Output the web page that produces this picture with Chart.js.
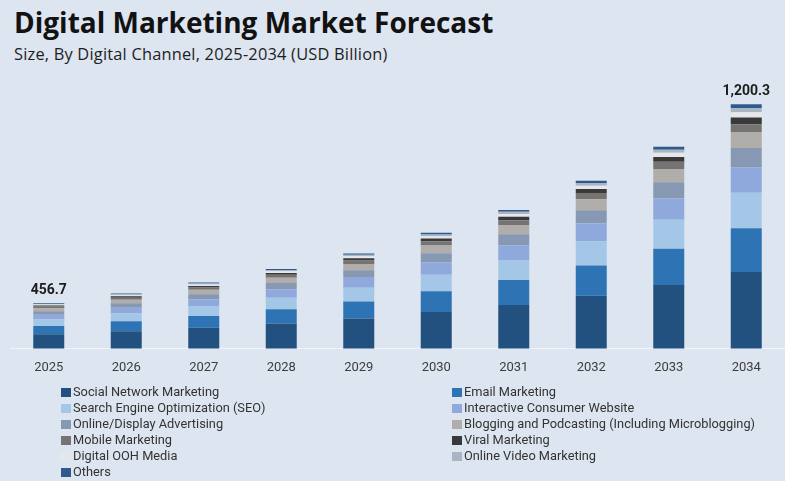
<!DOCTYPE html>
<html lang="en">
<head>
<meta charset="UTF-8">
<title>Digital Marketing Market Forecast</title>
<style>
  html, body { margin: 0; padding: 0; }
  body { width: 785px; height: 481px; background: #dde5f0; position: relative; overflow: hidden; font-family: Roboto, "Noto Sans", sans-serif; }
  #title { position: absolute; left: 14px; top: 8px; margin: 0; font-family: "Open Sans", sans-serif; font-size: 28px; line-height: 1; font-weight: 700; color: #121212; white-space: nowrap; }
  #subtitle { position: absolute; left: 14px; top: 46px; margin: 0; font-family: "Open Sans", sans-serif; font-size: 16.4px; letter-spacing: 0.2px; line-height: 1; color: #1e1e1e; white-space: nowrap; }
  #myChart { position: absolute; left: 0; top: 70px; }
  #legend { position: absolute; left: 61px; top: 384px; display: grid; grid-template-columns: 391px auto; font-size: 12.8px; color: #333; line-height: 16px; }
  #legend span.item { display: flex; align-items: center; white-space: nowrap; }
  #legend span.box { display: inline-block; width: 10px; height: 9px; margin-right: 2px; }
</style>
</head>
<body>
<h1 id="title">Digital Marketing Market Forecast</h1>
<p id="subtitle">Size, By Digital Channel, 2025-2034 (USD Billion)</p>
<canvas id="myChart" width="785" height="318"></canvas>
<div id="legend"></div>

<script src="https://cdn.jsdelivr.net/npm/chart.js"></script>
<script>
// years on the x axis
var years = ['2025', '2026', '2027', '2028', '2029', '2030', '2031', '2032', '2033', '2034'];

// USD billion per channel, bottom of the stack first
var socialNetwork = [340.9, 352.2, 365.3, 381.3, 399.4, 423.7, 450.5, 484.9, 524.5, 573.6];
var email         = [30.4, 36.9, 44.2, 53.4, 63.9, 77.7, 93.2, 112.8, 135.6, 163.8];
var seo           = [24.3, 29.5, 35.4, 42.7, 51.1, 62.2, 74.5, 90.2, 108.5, 132.6];
var interactive   = [17.9, 21.7, 26.1, 31.5, 37.6, 45.8, 54.9, 66.4, 79.8, 94.6];
var display       = [13.5, 16.4, 19.7, 23.7, 28.4, 34.6, 41.4, 50.1, 60.3, 71.9];
var blogging      = [11.1, 13.5, 16.2, 19.6, 23.4, 28.5, 34.2, 41.4, 49.7, 58.5];
var mobile        = [6.1, 7.4, 8.8, 10.7, 12.8, 15.5, 18.6, 22.6, 27.1, 30.9];
var viral         = [4.0, 4.9, 5.9, 7.1, 8.5, 10.4, 12.4, 15.0, 18.1, 24.9];
var digitalOOH    = [3.4, 4.1, 4.9, 5.9, 7.1, 8.6, 10.4, 12.5, 15.1, 19.7];
var onlineVideo   = [2.7, 3.3, 3.9, 4.7, 5.7, 6.9, 8.3, 10.0, 12.1, 14.9];
var others        = [2.4, 2.9, 3.4, 4.2, 5.0, 6.0, 7.2, 8.8, 10.5, 14.9];

// years that get a total on top of the bar
var labelledYears = ['2025', '2034'];

var series = [
  { label: 'Social Network Marketing', data: socialNetwork, color: '#22507f' },
  { label: 'Email Marketing', data: email, color: '#2e74b5' },
  { label: 'Search Engine Optimization (SEO)', data: seo, color: '#a4c7e8' },
  { label: 'Interactive Consumer Website', data: interactive, color: '#8fa9dc' },
  { label: 'Online/Display Advertising', data: display, color: '#8698b2' },
  { label: 'Blogging and Podcasting (Including Microblogging)', data: blogging, color: '#b0adab' },
  { label: 'Mobile Marketing', data: mobile, color: '#767373' },
  { label: 'Viral Marketing', data: viral, color: '#3a3939' },
  { label: 'Digital OOH Media', data: digitalOOH, color: '#e6e7ea' },
  { label: 'Online Video Marketing', data: onlineVideo, color: '#a9b4c4' },
  { label: 'Others', data: others, color: '#2f5b8c' }
];

var totalsPlugin = {
  id: 'totals',
  afterDatasetsDraw: function(chart) {
    var c = chart.ctx;
    var xs = chart.scales.x, ys = chart.scales.y;
    c.save();
    c.font = 'bold 14px Roboto, sans-serif';
    c.fillStyle = '#1c1c1c';
    c.textAlign = 'center';
    c.textBaseline = 'alphabetic';
    labelledYears.forEach(function(yr) {
      var i = years.indexOf(yr);
      var sum = 0;
      chart.data.datasets.forEach(function(ds) { sum += ds.data[i]; });
      var txt = sum.toLocaleString('en-US', { minimumFractionDigits: 1, maximumFractionDigits: 1 });
      c.fillText(txt, xs.getPixelForValue(i), ys.getPixelForValue(sum) - 9);
    });
    c.restore();
  }
};

var ctx = document.getElementById('myChart').getContext('2d');
var myChart = new Chart(ctx, {
  type: 'bar',
  data: {
    labels: years,
    datasets: series.map(function(s) {
      return { label: s.label, data: s.data, backgroundColor: s.color, borderWidth: 0 };
    })
  },
  options: {
    responsive: false,
    animation: false,
    layout: { padding: { left: 10, right: 0, top: 10, bottom: 0 } },
    datasets: { bar: { barPercentage: 0.4, categoryPercentage: 1.0 } },
    plugins: { legend: { display: false }, tooltip: { enabled: false } },
    scales: {
      x: {
        stacked: true,
        grid: { display: false, drawTicks: false },
        border: { display: true, color: 'rgba(255,255,255,0.6)' },
        ticks: { color: '#3d3d3d', font: { family: 'Roboto', size: 13 }, padding: 12 }
      },
      y: {
        stacked: true,
        display: false,
        min: 288,
        max: 1291
      }
    }
  },
  plugins: [totalsPlugin]
});

// two-column legend built from the chart's datasets
var legend = document.getElementById('legend');
myChart.data.datasets.forEach(function(ds) {
  var item = document.createElement('span');
  item.className = 'item';
  var box = document.createElement('span');
  box.className = 'box';
  box.style.background = ds.backgroundColor;
  item.appendChild(box);
  item.appendChild(document.createTextNode(ds.label));
  legend.appendChild(item);
});
</script>
</body>
</html>
